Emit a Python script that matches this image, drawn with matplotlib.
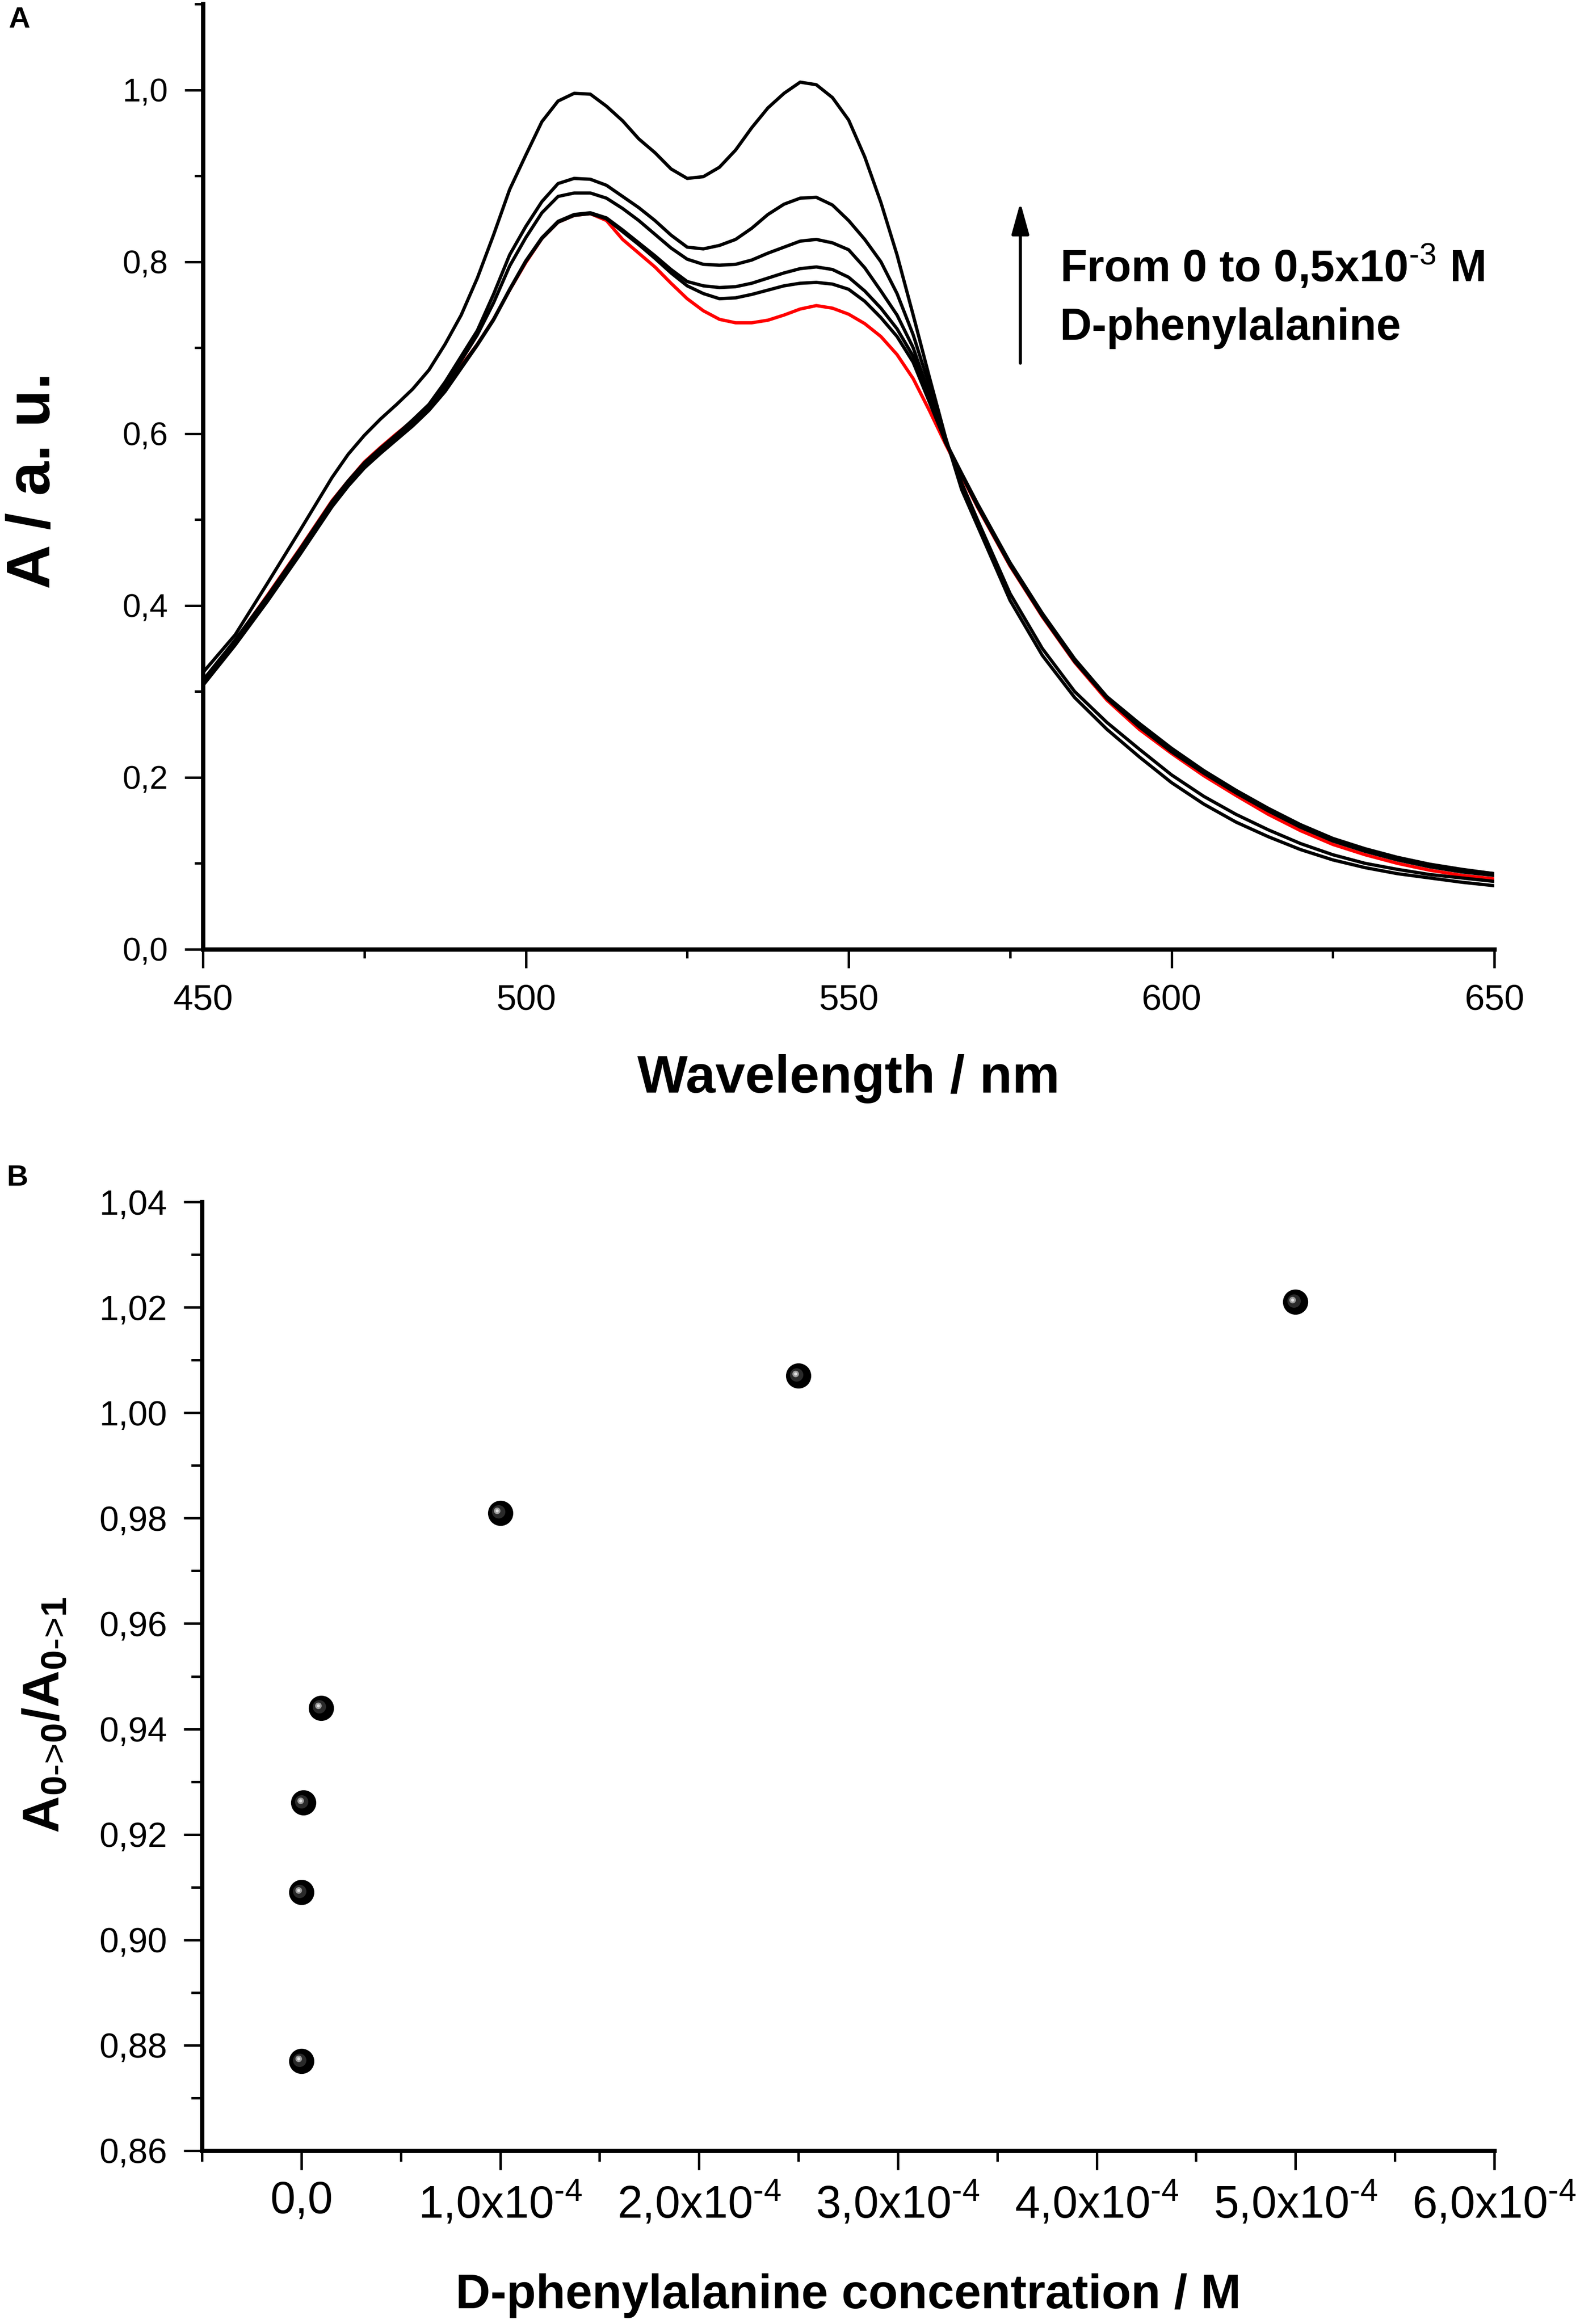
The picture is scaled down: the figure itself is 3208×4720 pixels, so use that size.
import matplotlib
matplotlib.use('Agg')
import matplotlib.pyplot as plt
from matplotlib.ticker import MultipleLocator, FuncFormatter
import matplotlib.transforms as mtransforms

plt.rcParams['font.family'] = ['Liberation Sans', 'DejaVu Sans']
plt.rcParams['mathtext.fontset'] = 'custom'
plt.rcParams['mathtext.rm'] = 'Liberation Sans'
plt.rcParams['mathtext.bf'] = 'Liberation Sans:bold'
plt.rcParams['mathtext.it'] = 'Liberation Sans:italic'

# ---------------- Panel A data (absorbance spectra) ----------------
wavelength = [450, 455, 460, 465, 470, 472.5, 475, 477.5, 480, 482.5, 485, 487.5, 490,
              492.5, 495, 497.5, 500, 502.5, 505, 507.5, 510, 512.5, 515, 517.5,
              520, 522.5, 525, 527.5, 530, 532.5, 535, 537.5, 540, 542.5, 545,
              547.5, 550, 552.5, 555, 557.5, 560, 562.5, 565, 567.5, 570,
              575, 580, 585, 590, 595, 600, 605, 610, 615, 620, 625, 630, 635,
              640, 645, 650]

abs_red = [0.312, 0.359, 0.412, 0.466, 0.522, 0.545, 0.567, 0.584, 0.600, 0.615, 0.632, 0.653, 0.679,
           0.704, 0.733, 0.767, 0.799, 0.827, 0.846, 0.854, 0.856, 0.848, 0.826, 0.810,
           0.794, 0.775, 0.757, 0.743, 0.733, 0.729, 0.729, 0.732, 0.738, 0.745, 0.749,
           0.746, 0.739, 0.728, 0.713, 0.692, 0.664, 0.627, 0.588, 0.551, 0.514,
           0.446, 0.387, 0.334, 0.290, 0.256, 0.228, 0.202, 0.179, 0.157, 0.138, 0.122,
           0.110, 0.100, 0.092, 0.086, 0.082]

abs_b1 = [0.307, 0.354, 0.405, 0.459, 0.515, 0.539, 0.560, 0.577, 0.593, 0.609, 0.627, 0.649, 0.676,
          0.703, 0.732, 0.767, 0.800, 0.827, 0.846, 0.854, 0.856, 0.850, 0.835, 0.820,
          0.804, 0.787, 0.772, 0.763, 0.757, 0.758, 0.762, 0.767, 0.772, 0.775, 0.776,
          0.774, 0.768, 0.754, 0.735, 0.713, 0.683, 0.637, 0.591, 0.554, 0.518,
          0.450, 0.391, 0.338, 0.294, 0.263, 0.234, 0.208, 0.185, 0.164, 0.145, 0.129,
          0.117, 0.107, 0.099, 0.093, 0.088]

abs_b2 = [0.309, 0.356, 0.407, 0.461, 0.517, 0.541, 0.562, 0.579, 0.595, 0.611, 0.629, 0.651, 0.678,
          0.704, 0.733, 0.768, 0.801, 0.828, 0.847, 0.855, 0.857, 0.851, 0.837, 0.822,
          0.807, 0.791, 0.777, 0.772, 0.770, 0.771, 0.775, 0.781, 0.787, 0.792, 0.794,
          0.791, 0.782, 0.766, 0.746, 0.722, 0.690, 0.641, 0.590, 0.553, 0.517,
          0.449, 0.390, 0.337, 0.293, 0.261, 0.232, 0.207, 0.184, 0.163, 0.144, 0.128,
          0.116, 0.106, 0.098, 0.092, 0.088]

abs_b3 = [0.311, 0.358, 0.409, 0.463, 0.519, 0.543, 0.564, 0.581, 0.597, 0.613, 0.631, 0.656, 0.685,
          0.715, 0.752, 0.795, 0.828, 0.857, 0.876, 0.880, 0.880, 0.874, 0.862, 0.848,
          0.832, 0.816, 0.803, 0.797, 0.796, 0.797, 0.802, 0.810, 0.817, 0.824, 0.826,
          0.822, 0.814, 0.793, 0.766, 0.738, 0.700, 0.646, 0.590, 0.552, 0.515,
          0.447, 0.388, 0.335, 0.292, 0.259, 0.230, 0.205, 0.182, 0.161, 0.142, 0.126,
          0.114, 0.104, 0.096, 0.090, 0.086]

abs_b4 = [0.313, 0.360, 0.411, 0.465, 0.521, 0.545, 0.566, 0.583, 0.599, 0.616, 0.634, 0.660, 0.690,
          0.720, 0.762, 0.808, 0.841, 0.870, 0.891, 0.897, 0.896, 0.889, 0.876, 0.863,
          0.848, 0.831, 0.817, 0.815, 0.819, 0.826, 0.839, 0.855, 0.867, 0.874, 0.875,
          0.866, 0.848, 0.826, 0.800, 0.763, 0.715, 0.656, 0.594, 0.543, 0.499,
          0.414, 0.350, 0.300, 0.264, 0.233, 0.203, 0.178, 0.157, 0.139, 0.123, 0.110,
          0.100, 0.093, 0.087, 0.083, 0.079]

abs_b5 = [0.322, 0.366, 0.426, 0.487, 0.549, 0.576, 0.598, 0.617, 0.634, 0.652, 0.674, 0.704, 0.738,
          0.781, 0.831, 0.884, 0.924, 0.963, 0.987, 0.996, 0.995, 0.981, 0.964, 0.943,
          0.927, 0.908, 0.897, 0.899, 0.910, 0.930, 0.956, 0.979, 0.996, 1.009, 1.006,
          0.991, 0.965, 0.922, 0.869, 0.808, 0.738, 0.666, 0.596, 0.535, 0.492,
          0.406, 0.342, 0.293, 0.256, 0.224, 0.194, 0.169, 0.148, 0.131, 0.116, 0.104,
          0.095, 0.088, 0.083, 0.078, 0.074]

black_spectra = [abs_b1, abs_b2, abs_b3, abs_b4, abs_b5]

# ---------------- Panel B data (ratio vs concentration) ----------------
concentration = [0.0, 1e-7, 1e-6, 1e-5, 1e-4, 2.5e-4, 5e-4]
ratio = [0.877, 0.909, 0.926, 0.944, 0.981, 1.007, 1.021]

# ---------------- Figure ----------------
W, H, DPI = 3208, 4720, 300
fig = plt.figure(figsize=(W / DPI, H / DPI), dpi=DPI)

axA = fig.add_axes([412 / W, 1 - 1928 / H, 2622 / W, 1920 / H])
axB = fig.add_axes([410 / W, 1 - 4368 / H, 2624 / W, 1927 / H])

for ax in (axA, axB):
    ax.spines['top'].set_visible(False)
    ax.spines['right'].set_visible(False)
    ax.spines['left'].set_linewidth(2.1)
    ax.spines['bottom'].set_linewidth(2.1)
    ax.tick_params(which='both', direction='out', width=1.2, color='black')

# ---- Panel A ----
axA.plot(wavelength, abs_red, color='#ff0000', lw=1.6, zorder=2)
for spec in black_spectra:
    axA.plot(wavelength, spec, color='black', lw=1.6, zorder=3)

axA.set_xlim(450, 650)
axA.set_ylim(0, 1.1)
axA.xaxis.set_major_locator(MultipleLocator(50))
axA.xaxis.set_minor_locator(MultipleLocator(25))
axA.yaxis.set_major_locator(MultipleLocator(0.2))
axA.yaxis.set_minor_locator(MultipleLocator(0.1))
axA.yaxis.set_major_formatter(FuncFormatter(lambda v, p: f'{v:.1f}'.replace('.', ',')))
axA.xaxis.set_major_formatter(FuncFormatter(lambda v, p: f'{v:.0f}'))
axA.tick_params(axis='x', which='major', length=9, labelsize=17.5, pad=8)
axA.tick_params(axis='x', which='minor', length=4.2)
axA.tick_params(axis='y', which='major', length=9, labelsize=16, pad=8)
axA.tick_params(axis='y', which='minor', length=4.2)

axA.set_xlabel('Wavelength / nm', fontsize=26, fontweight='bold', va='center')
axA.xaxis.set_label_coords(0.5, -0.137)
axA.set_ylabel('A / a. u.', fontsize=30, fontweight='bold', va='center', ha='center')
axA.yaxis.set_label_coords(-0.131, 0.496)

axA.annotate('', xy=(576.6, 0.869), xytext=(576.6, 0.682),
             arrowprops=dict(arrowstyle='-|>,head_length=0.65,head_width=0.18',
                             mutation_scale=20, color='black', lw=1.5,
                             shrinkA=0, shrinkB=0))
axA.text(582.7, 0.777, r'From 0 to 0,5x10$^{\text{-3}}$ M', fontsize=21.5,
         fontweight='bold', va='baseline', ha='left')
axA.text(582.7, 0.709, 'D-phenylalanine', fontsize=21.5,
         fontweight='bold', va='baseline', ha='left')

fig.text(39 / W, 1 - 40 / H, 'A', fontsize=14.5, fontweight='bold', ha='center', va='center')

# ---- Panel B ----
axB.set_xlim(-0.5e-4, 6e-4)
axB.set_ylim(0.86, 1.04)
axB.plot(concentration, ratio, linestyle='none', marker='o', markersize=11.3,
         markerfacecolor='black', markeredgecolor='black', zorder=3, clip_on=False)
t1 = mtransforms.offset_copy(axB.transData, fig=fig, x=-0.9, y=0.6, units='points')
axB.plot(concentration, ratio, linestyle='none', marker='o', markersize=6.5,
         markerfacecolor='#2a2a2a', markeredgecolor='none', zorder=4, transform=t1)
t2 = mtransforms.offset_copy(axB.transData, fig=fig, x=-1.5, y=1.1, units='points')
axB.plot(concentration, ratio, linestyle='none', marker='o', markersize=3.2,
         markerfacecolor='#9a9a9a', markeredgecolor='none', zorder=5, transform=t2)
axB.plot(concentration, ratio, linestyle='none', marker='o', markersize=1.5,
         markerfacecolor='#e0e0e0', markeredgecolor='none', zorder=6, transform=t2)

axB.xaxis.set_major_locator(MultipleLocator(1e-4))
axB.xaxis.set_minor_locator(MultipleLocator(0.5e-4))
axB.yaxis.set_major_locator(MultipleLocator(0.02))
axB.yaxis.set_minor_locator(MultipleLocator(0.01))


def conc_fmt(v, p):
    if abs(v) < 1e-12:
        return '0,0'
    return f'{v / 1e-4:.1f}'.replace('.', ',') + r'x10$^{\text{-4}}$'


axB.xaxis.set_major_formatter(FuncFormatter(conc_fmt))
axB.yaxis.set_major_formatter(FuncFormatter(lambda v, p: f'{v:.2f}'.replace('.', ',')))
axB.tick_params(axis='x', which='major', length=9.4, labelsize=22, pad=5)
axB.tick_params(axis='x', which='minor', length=5.3)
axB.tick_params(axis='y', which='major', length=9, labelsize=17, pad=8)
axB.tick_params(axis='y', which='minor', length=5.3)

axB.set_xlabel('D-phenylalanine concentration / M', fontsize=23.5, fontweight='bold', va='center')
axB.xaxis.set_label_coords(0.5, -0.153)
axB.set_ylabel(r'$\mathbf{A_{0\text{->}0}/A_{0\text{->}1}}$', fontsize=25, va='center', ha='center')
axB.yaxis.set_label_coords(-0.121, 0.459)

fig.text(36 / W, 1 - 2392 / H, 'B', fontsize=14.5, fontweight='bold', ha='center', va='center')

fig.savefig('out.png', dpi=DPI, facecolor='white')
